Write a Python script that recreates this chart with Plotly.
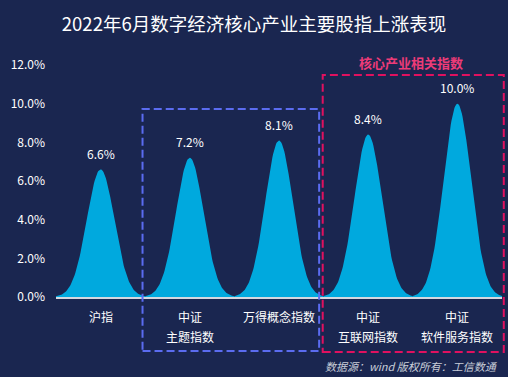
import numpy as np
import plotly.graph_objects as go

# ---- data ----
categories = ["沪指", "中证\n主题指数", "万得概念指数", "中证\n互联网指数", "中证\n软件服务指数"]
values = [6.6, 7.2, 8.1, 8.4, 10.0]
y_ticks = [0, 2, 4, 6, 8, 10, 12]
title_text = "2022年6月数字经济核心产业主要股指上涨表现"
group_label = "核心产业相关指数"
source_text = "数据源：wind 版权所有：工信数通"

# ---- style ----
BG = "#1a2650"
FILL = "#00a9de"
FONT = "Noto Sans CJK SC"
SIGMA = 0.155

fig = go.Figure()

t = np.linspace(-0.5, 0.5, 121)
bell = np.exp(-t**2 / (2 * SIGMA**2))
for i, v in enumerate(values):
    fig.add_trace(go.Scatter(
        x=i + t, y=v * bell, mode="lines", fill="tozeroy",
        fillcolor=FILL, line=dict(width=0, color=FILL),
        hoverinfo="skip", showlegend=False))

annotations = []
for i, v in enumerate(values):
    annotations.append(dict(x=i, y=v, xref="x", yref="y", text=f"{v:.1f}%",
                            showarrow=False, yshift=16, yanchor="middle",
                            font=dict(size=12, color="#ffffff", family=FONT)))
    lines = categories[i].split("\n")
    for j, line in enumerate(lines):
        annotations.append(dict(x=i, y=0, xref="x", yref="y", text=line,
                                showarrow=False, yshift=-19 - 20 * j, yanchor="middle",
                                font=dict(size=12, color="#ffffff", family=FONT)))

annotations.append(dict(x=0.796, y=1.01, xref="paper", yref="paper", text=group_label,
                        showarrow=False, yanchor="middle", xanchor="center",
                        font=dict(size=13, color="#ee3b78", family=FONT, weight="bold")))
annotations.append(dict(x=0.9955, y=-0.297, xref="paper", yref="paper", text=source_text,
                        showarrow=False, yanchor="middle", xanchor="right",
                        font=dict(size=11, color="#c8cdd8", family=FONT, style="italic")))

shapes = [
    dict(type="rect", xref="paper", yref="paper", x0=0.194, x1=0.590, y0=-0.233, y1=0.810,
         line=dict(color="#5b6cf0", width=2, dash="8px,4px"), fillcolor="rgba(0,0,0,0)"),
    dict(type="rect", xref="paper", yref="paper", x0=0.598, x1=1.004, y0=-0.237, y1=0.957,
         line=dict(color="#e0115f", width=2, dash="8px,4px"), fillcolor="rgba(0,0,0,0)"),
]

fig.update_layout(
    width=508, height=377,
    paper_bgcolor=BG, plot_bgcolor=BG,
    margin=dict(l=56, r=6, t=65, b=80),
    title=dict(text=title_text, x=0.5, xref="container", xanchor="center",
               y=0.934, yanchor="middle",
               font=dict(size=18.5, color="#ffffff", family=FONT)),
    font=dict(family=FONT, color="#ffffff", size=12),
    xaxis=dict(range=[-0.5, len(values) - 0.5], showgrid=False, zeroline=False,
               showticklabels=False, ticks="", showline=True,
               linecolor="#d4d8e0", linewidth=2, fixedrange=True),
    yaxis=dict(range=[0, 12], tickvals=y_ticks,
               ticktext=[f"{v:.1f}%" for v in y_ticks],
               showgrid=False, zeroline=False, showline=False, ticks="",
               ticklabelstandoff=10,
               tickfont=dict(size=12, color="#ffffff", family=FONT), fixedrange=True),
    annotations=annotations,
    shapes=shapes,
)

fig.write_html("out.html", config={"displayModeBar": False},
               post_script="document.body.style.margin='0';document.body.style.background='" + BG + "';")
